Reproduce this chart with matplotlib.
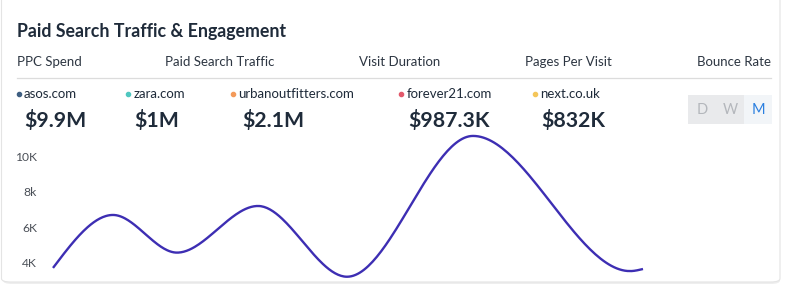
import numpy as np
import matplotlib
matplotlib.use("Agg")
import matplotlib.pyplot as plt
from matplotlib.patches import FancyBboxPatch, Rectangle
from matplotlib.lines import Line2D

W, H = 788, 285
title = "Paid Search Traffic & Engagement"
tabs = ["PPC Spend", "Paid Search Traffic", "Visit Duration", "Pages Per Visit", "Bounce Rate"]
sites = ["asos.com", "zara.com", "urbanoutfitters.com", "forever21.com", "next.co.uk"]
site_colors = ["#3f5f82", "#4fc7c0", "#f39a5a", "#e2596b", "#f4c65a"]
site_values = ["$9.9M", "$1M", "$2.1M", "$987.3K", "$832K"]
periods = ["D", "W", "M"]

# curve data (x: time offset, y: thousands)
x_vals = [0, 60, 124, 205, 294, 420, 577, 590]
y_vals = [3.68, 6.69, 4.55, 7.20, 3.18, 11.18, 3.50, 3.62]
y_ticks = [4, 6, 8, 10]
y_tick_labels = ["4K", "6K", "8k", "10K"]

FONT = ["Lato", "DejaVu Sans"]
plt.rcParams['font.family'] = FONT

fig = plt.figure(figsize=(W / 100, H / 100), dpi=100)
fig.patch.set_facecolor("white")

def fx(x):
    return x / W

def fy(y):
    return 1 - y / H

# card
shadow = FancyBboxPatch((fx(3), fy(284)), fx(780) - fx(3), fy(-20) - fy(284),
                        boxstyle="round,pad=0,rounding_size=0.012",
                        transform=fig.transFigure, facecolor="#eeeeee", edgecolor="none", zorder=0)
fig.patches.append(shadow)
card = FancyBboxPatch((fx(1.5), fy(282)), fx(780) - fx(1.5), fy(-20) - fy(282),
                      boxstyle="round,pad=0,rounding_size=0.012",
                      transform=fig.transFigure, facecolor="white", edgecolor="#e4e4e4",
                      linewidth=0.8, zorder=1)
fig.patches.append(card)

dark = "#1f2b3a"
fig.text(fx(17), fy(31.5), title, fontsize=12.8, fontweight="bold", color=dark,
         ha="left", va="center", zorder=5)

tab_x = [17, 219.5, 400, 568, 771]
tab_ha = ["left", "center", "center", "center", "right"]
for t, x, ha in zip(tabs, tab_x, tab_ha):
    fig.text(fx(x), fy(62), t, fontsize=9.5, color="#2d3642", ha=ha, va="center", zorder=5)

fig.add_artist(Line2D([fx(17), fx(771)], [fy(78), fy(78)], color="#dcdcdc",
                      linewidth=0.9, transform=fig.transFigure, zorder=5))

dot_x = [18.5, 128, 233, 401, 535]
val_x = [24, 134, 242, 408, 541]
for s, c, v, dx, vx in zip(sites, site_colors, site_values, dot_x, val_x):
    fig.add_artist(Line2D([fx(dx)], [fy(94.5)], marker="o", markersize=3.0, color=c,
                          linestyle="none", transform=fig.transFigure, zorder=5))
    fig.text(fx(dx + 5.5), fy(94), s, fontsize=9.5, color=dark, ha="left", va="center", zorder=5)
    fig.text(fx(vx), fy(121), v, fontsize=15.3, fontweight="bold", color=dark,
             ha="left", va="center", zorder=5)

# D W M toggle
fig.patches.append(Rectangle((fx(688), fy(124)), fx(744) - fx(688), fy(95) - fy(124),
                             transform=fig.transFigure, facecolor="#e9eaec", edgecolor="none", zorder=4))
fig.patches.append(Rectangle((fx(744), fy(124)), fx(772) - fx(744), fy(95) - fy(124),
                             transform=fig.transFigure, facecolor="#f2f5f8", edgecolor="none", zorder=4))
for p, x, c in zip(periods, [702, 730, 758], ["#b4b7bc", "#b4b7bc", "#2b7fe0"]):
    fig.text(fx(x), fy(110), p, fontsize=10.5, color=c, ha="center", va="center", zorder=5)

# chart axes
ax_left, ax_right, ax_top, ax_bot = 53, 771, 128, 282
ax = fig.add_axes([fx(ax_left), fy(ax_bot), fx(ax_right) - fx(ax_left), fy(ax_top) - fy(ax_bot)])
ax.set_zorder(3)
ax.patch.set_alpha(0)

def monotone(x, y, n=60):
    x = np.asarray(x, float)
    y = np.asarray(y, float)
    h = np.diff(x)
    s = np.diff(y) / h
    m = np.zeros_like(y)
    for i in range(1, len(y) - 1):
        s0, s1 = s[i - 1], s[i]
        p = (s0 * h[i] + s1 * h[i - 1]) / (h[i - 1] + h[i])
        m[i] = (np.sign(s0) + np.sign(s1)) * min(abs(s0), abs(s1), 0.5 * abs(p))
    m[0] = (3 * s[0] - m[1]) / 2
    m[-1] = (3 * s[-1] - m[-2]) / 2
    xs, ys = [], []
    for i in range(len(h)):
        t = np.linspace(0, 1, n)
        h00 = 2 * t**3 - 3 * t**2 + 1
        h10 = t**3 - 2 * t**2 + t
        h01 = -2 * t**3 + 3 * t**2
        h11 = t**3 - t**2
        xs.append(x[i] + t * h[i])
        ys.append(h00 * y[i] + h10 * h[i] * m[i] + h01 * y[i + 1] + h11 * h[i] * m[i + 1])
    return np.concatenate(xs), np.concatenate(ys)

cx, cy = monotone(x_vals, y_vals)
ax.plot(cx, cy, color="#3d2eb3", linewidth=1.7, solid_capstyle="butt", clip_on=False)

ax.set_xlim(0, ax_right - ax_left)
# 4K at 262.3px, 2K per 35.2px
k_per_px = 2 / 35.2
ax.set_ylim(4 - (ax_bot - 262.3) * k_per_px, 4 + (262.3 - ax_top) * k_per_px)
ax.set_yticks(y_ticks)
ax.set_yticklabels(y_tick_labels)
ax.tick_params(axis="y", length=0, pad=11.5, labelsize=8.7, labelcolor="#4a4f57")
ax.set_xticks([])
for sp in ax.spines.values():
    sp.set_visible(False)

fig.savefig("out.png", dpi=100, facecolor="white")
